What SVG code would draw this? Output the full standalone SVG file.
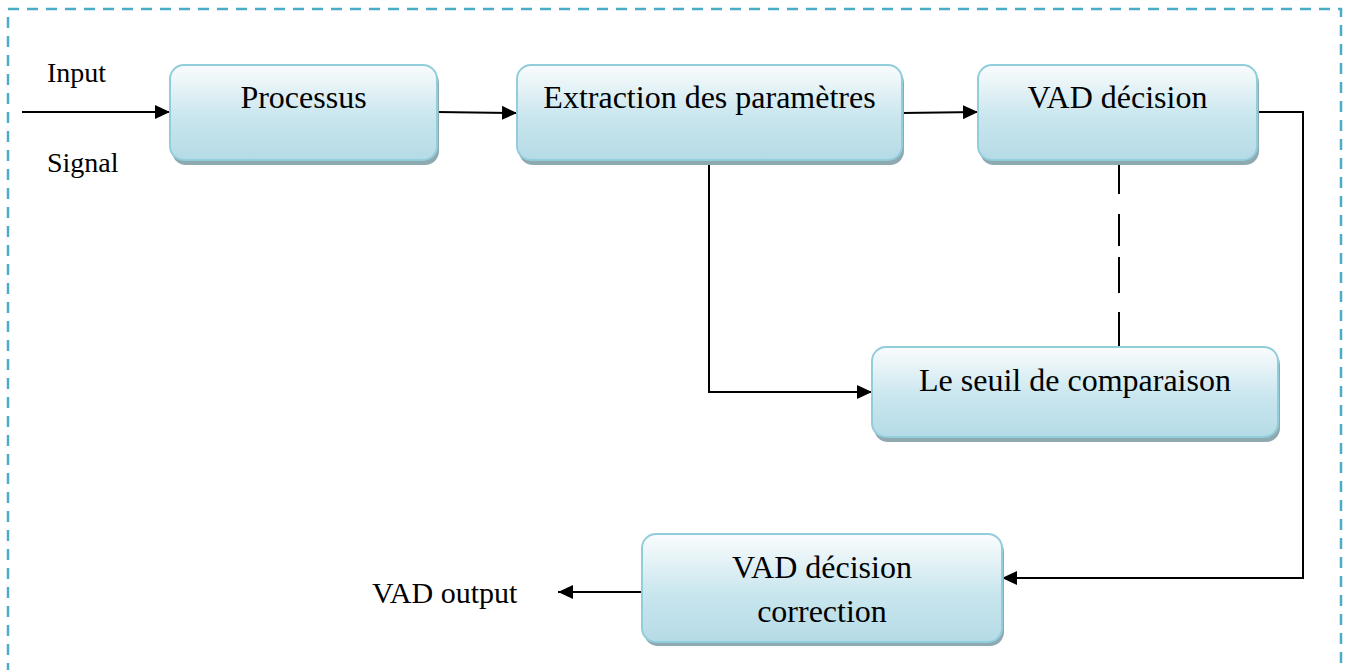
<svg xmlns="http://www.w3.org/2000/svg" width="1347" height="670" viewBox="0 0 1347 670">
  <style>
    .frame { fill: none; stroke: #4BACC6; stroke-width: 2.5; stroke-dasharray: 11 8; }
    .shadow { fill: #8FA9B1; }
    .box { fill: url(#boxFill); stroke: #92CDDC; stroke-width: 2; }
    .label { font-family: "Liberation Serif", "Times New Roman", serif; font-size: 32px; fill: #000; text-anchor: middle; }
    .note { font-family: "Liberation Serif", "Times New Roman", serif; font-size: 28px; fill: #000; }
    .wire { fill: none; stroke: #000; stroke-width: 2; }
  </style>
  <defs>
    <linearGradient id="boxFill" x1="0" y1="0" x2="0" y2="1">
      <stop offset="0" stop-color="#FAFCFD"/>
      <stop offset="0.55" stop-color="#C9E6EE"/>
      <stop offset="1" stop-color="#B5DBE6"/>
    </linearGradient>
    <marker id="arrow" viewBox="0 0 15 14" refX="15" refY="7" markerWidth="15" markerHeight="14" markerUnits="userSpaceOnUse" orient="auto">
      <path d="M0,0 L15,7 L0,14 Z" fill="#000"/>
    </marker>
  </defs>

  <!-- dashed outer frame (bottom edge runs off the page) -->
  <rect class="frame" x="8" y="9" width="1333" height="700"/>

  <!-- side labels -->
  <text class="note" x="47" y="82">Input</text>
  <text class="note" x="47" y="172">Signal</text>
  <text class="note" x="372" y="603" style="font-size:30px">VAD output</text>

  <!-- connectors -->
  <g id="connectors">
    <line class="wire" x1="22" y1="112" x2="170" y2="112" marker-end="url(#arrow)"/>
    <line class="wire" x1="437" y1="112" x2="517" y2="113" marker-end="url(#arrow)"/>
    <line class="wire" x1="902" y1="113" x2="978" y2="112" marker-end="url(#arrow)"/>
    <polyline class="wire" points="709,160 709,392 872,392" marker-end="url(#arrow)"/>
    <polyline class="wire" points="1257,112 1303,112 1303,578 1002,578" marker-end="url(#arrow)"/>
    <line class="wire" x1="642" y1="592" x2="558" y2="592" marker-end="url(#arrow)"/>
    <!-- long-dash link between decision and threshold -->
    <path class="wire" d="M1119,159 V194 M1119,214 V246 M1119,257 V293 M1119,312 V347"/>
  </g>

  <g id="node-processus">
    <rect class="shadow" x="172" y="69" width="267" height="96" rx="14"/>
    <rect class="box" x="170" y="65" width="267" height="95" rx="14"/>
    <text class="label" x="303.5" y="108">Processus</text>
  </g>

  <g id="node-extraction">
    <rect class="shadow" x="519" y="69" width="385" height="96" rx="14"/>
    <rect class="box" x="517" y="65" width="385" height="95" rx="14"/>
    <text class="label" x="709.5" y="108">Extraction des paramètres</text>
  </g>

  <g id="node-vad-decision">
    <rect class="shadow" x="980" y="69" width="279" height="96" rx="14"/>
    <rect class="box" x="978" y="65" width="279" height="95" rx="14"/>
    <text class="label" x="1117.5" y="108">VAD décision</text>
  </g>

  <g id="node-seuil">
    <rect class="shadow" x="874" y="351" width="406" height="91" rx="14"/>
    <rect class="box" x="872" y="347" width="406" height="90" rx="14"/>
    <text class="label" x="1075" y="391">Le seuil de comparaison</text>
  </g>

  <g id="node-correction">
    <rect class="shadow" x="644" y="538" width="360" height="108" rx="14"/>
    <rect class="box" x="642" y="534" width="360" height="108" rx="14"/>
    <text class="label" x="822" y="578">VAD décision</text>
    <text class="label" x="822" y="622">correction</text>
  </g>
</svg>
